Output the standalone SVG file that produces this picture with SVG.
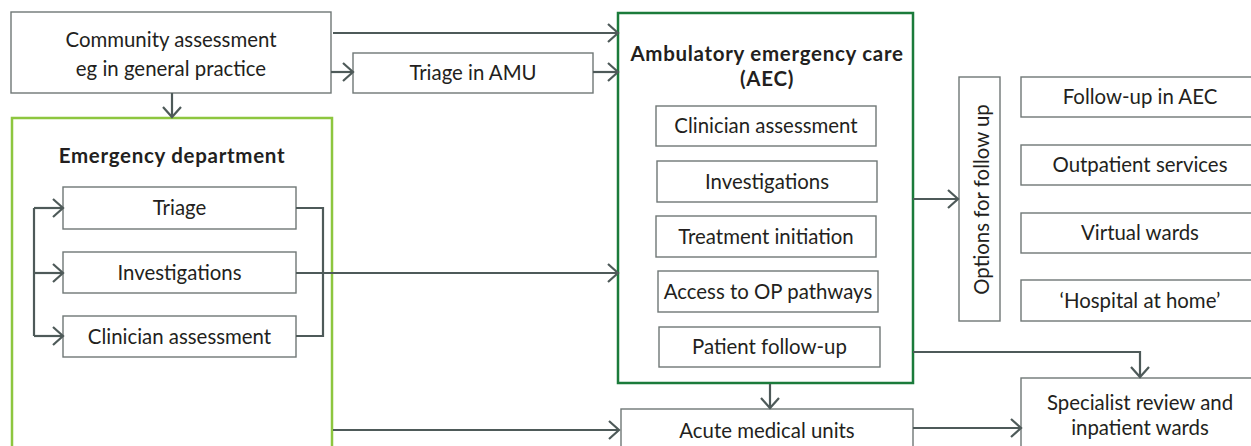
<svg xmlns="http://www.w3.org/2000/svg" width="1251" height="446" viewBox="0 0 1251 446">
<style>
.box{fill:#ffffff;stroke:#6f7776;stroke-width:1.4}
.t{font-family:Lato,"Open Sans","Liberation Sans",sans-serif;font-size:20.4px;fill:#231f20;text-anchor:middle}
.b{font-weight:bold;font-size:20.5px;letter-spacing:0.7px}
.c{fill:none;stroke:#4e5a59;stroke-width:2.2}
.a{marker-end:url(#arr)}
</style>
<defs>
<marker id="arr" markerUnits="userSpaceOnUse" markerWidth="14" markerHeight="22" viewBox="0 0 14 22" refX="12" refY="11" orient="auto">
<path d="M2,2 L12,11 L2,20" fill="none" stroke="#4e5a59" stroke-width="2.2"/>
</marker>
</defs>
<rect width="1251" height="446" fill="#ffffff"/>

<g id="community">
<rect class="box" x="11" y="12" width="320" height="81"/>
<text class="t" x="171" y="47">Community assessment</text>
<text class="t" x="171" y="76">eg in general practice</text>
</g>

<g id="triage-amu">
<rect class="box" x="353" y="53" width="240" height="40"/>
<text class="t" x="473" y="80">Triage in AMU</text>
</g>

<g id="ed">
<rect x="12" y="118" width="320" height="350" fill="#ffffff" stroke="#8dc63f" stroke-width="2.5"/>
<text class="t b" x="172" y="163">Emergency department</text>
</g>
<g id="ed-triage">
<rect class="box" x="63" y="187" width="233" height="42"/>
<text class="t" x="179.5" y="215">Triage</text>
</g>
<g id="ed-investigations">
<rect class="box" x="63" y="252" width="233" height="41"/>
<text class="t" x="179.5" y="279.5">Investigations</text>
</g>
<g id="ed-clinician">
<rect class="box" x="63" y="316" width="233" height="41"/>
<text class="t" x="179.5" y="343.5">Clinician assessment</text>
</g>

<g id="aec">
<rect x="618" y="13" width="295" height="370" fill="#ffffff" stroke="#1b7b3b" stroke-width="2.5"/>
<text class="t b" x="767" y="61">Ambulatory emergency care</text>
<text class="t b" x="767" y="86">(AEC)</text>
</g>
<g id="aec-clinician">
<rect class="box" x="656" y="106" width="220" height="40"/>
<text class="t" x="766" y="133">Clinician assessment</text>
</g>
<g id="aec-investigations">
<rect class="box" x="657" y="161" width="220" height="41"/>
<text class="t" x="767" y="188.5">Investigations</text>
</g>
<g id="aec-treatment">
<rect class="box" x="656" y="216" width="220" height="41"/>
<text class="t" x="766" y="243.5">Treatment initiation</text>
</g>
<g id="aec-access">
<rect class="box" x="658" y="271" width="220" height="41"/>
<text class="t" x="768" y="298.5">Access to OP pathways</text>
</g>
<g id="aec-followup">
<rect class="box" x="659" y="327" width="221" height="40"/>
<text class="t" x="769.5" y="354">Patient follow-up</text>
</g>

<g id="options">
<rect class="box" x="959" y="77" width="41" height="244"/>
<text class="t" transform="translate(988.5,199.5) rotate(-90)">Options for follow up</text>
</g>
<g id="followup-aec">
<rect class="box" x="1021" y="77" width="238" height="40"/>
<text class="t" x="1140" y="104">Follow-up in AEC</text>
</g>
<g id="outpatient">
<rect class="box" x="1021" y="145" width="238" height="40"/>
<text class="t" x="1140" y="172">Outpatient services</text>
</g>
<g id="virtual">
<rect class="box" x="1021" y="213" width="238" height="40"/>
<text class="t" x="1140" y="240">Virtual wards</text>
</g>
<g id="hospital-home">
<rect class="box" x="1021" y="280" width="238" height="41"/>
<text class="t" x="1140" y="307.5">‘Hospital at home’</text>
</g>

<g id="acute">
<rect class="box" x="621" y="409" width="292" height="60"/>
<text class="t" x="767" y="438">Acute medical units</text>
</g>
<g id="specialist">
<rect class="box" x="1021" y="378" width="238" height="90"/>
<text class="t" x="1140" y="410">Specialist review and</text>
<text class="t" x="1140" y="435">inpatient wards</text>
</g>

<g id="connectors">
<path class="c a" d="M333,33 H618"/>
<path class="c a" d="M331,72 H353"/>
<path class="c a" d="M593,72 H618"/>
<path class="c a" d="M172,93 V117"/>
<path class="c" d="M34,208 V336"/>
<path class="c a" d="M34,208 H63"/>
<path class="c a" d="M34,273 H63"/>
<path class="c a" d="M34,336 H63"/>
<path class="c" d="M296,208 H323 V336 H296"/>
<path class="c a" d="M296,273 H618"/>
<path class="c a" d="M333,430 H619"/>
<path class="c a" d="M770,384 V408"/>
<path class="c a" d="M913,199 H958"/>
<path class="c a" d="M913,352 H1140 V377"/>
<path class="c a" d="M913,428 H1021"/>
</g>
</svg>
